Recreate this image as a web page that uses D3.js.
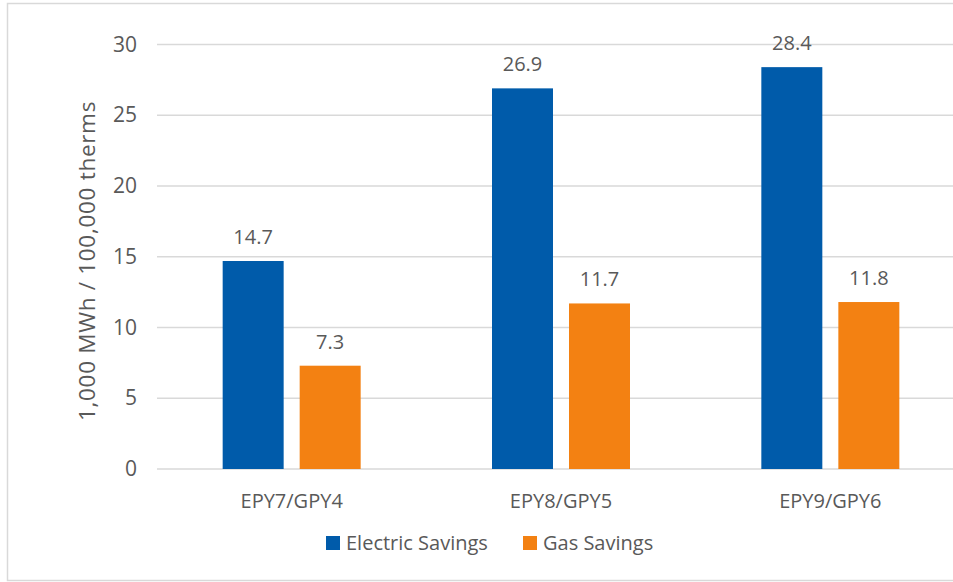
<!DOCTYPE html>
<html>
<head>
<meta charset="utf-8">
<script src="https://cdn.jsdelivr.net/npm/d3@7"></script>
<style>
  html, body { margin: 0; padding: 0; background: #fff; }
  svg text { font-family: "Open Sans", "Noto Sans", sans-serif; fill: #595959; }
</style>
</head>
<body>
<svg id="chart" width="953" height="582"></svg>
<script>
// Program years and savings per year
const categories = ["EPY7/GPY4", "EPY8/GPY5", "EPY9/GPY6"];
const seriesNames = ["Electric Savings", "Gas Savings"];
const electricSavings = [14.7, 26.9, 28.4];
const gasSavings = [7.3, 11.7, 11.8];
const yTicks = [0, 5, 10, 15, 20, 25, 30];
const yTitle = "1,000 MWh / 100,000 therms";
const colors = ["#005BAA", "#F38112"];

const svg = d3.select("#chart");

// Outer frame
svg.append("rect")
  .attr("x", 7.5).attr("y", 3.5)
  .attr("width", 960).attr("height", 577)
  .attr("fill", "none").attr("stroke", "#d9d9d9").attr("stroke-width", 1.5);

const plot = { left: 157, right: 965, top: 44.5, bottom: 469 };

const x = d3.scaleBand().domain(categories).range([plot.left, plot.right]).paddingInner(0).paddingOuter(0);
const groupWidth = 138;
const x1 = d3.scaleBand().domain(seriesNames).range([0, groupWidth]).paddingInner(0.208);
const y = d3.scaleLinear().domain([0, 30]).range([plot.bottom, plot.top]);

// Gridlines
svg.append("g")
  .selectAll("line").data(yTicks).join("line")
  .attr("x1", plot.left).attr("x2", plot.right)
  .attr("y1", d => y(d)).attr("y2", d => y(d))
  .attr("stroke", "#d9d9d9").attr("stroke-width", 1.3);

// Y axis tick labels
const yAxis = d3.axisLeft(y).tickValues(yTicks).tickSize(0).tickPadding(0);
const gy = svg.append("g").attr("transform", `translate(137,0)`).call(yAxis);
gy.select(".domain").remove();
gy.selectAll("text").attr("font-size", 21).attr("fill", "#595959")
  .style("font-family", '"Open Sans", sans-serif');

// Y axis title
svg.append("text")
  .attr("transform", `translate(95,261) rotate(-90)`)
  .attr("text-anchor", "middle")
  .attr("font-size", 22.5)
  .attr("letter-spacing", 0.7)
  .text(yTitle);

// X axis category labels
const xAxis = d3.axisBottom(x).tickSize(0).tickPadding(0);
const gx = svg.append("g").attr("transform", `translate(0,${plot.bottom + 39})`).call(xAxis);
gx.select(".domain").remove();
gx.selectAll("text").attr("font-size", 20).attr("fill", "#595959").attr("dy", 0)
  .style("font-family", '"Open Sans", sans-serif');

// Bars
const rows = categories.map((c, i) => ({ cat: c, vals: [electricSavings[i], gasSavings[i]] }));
const groups = svg.append("g").selectAll("g").data(rows).join("g")
  .attr("transform", d => `translate(${x(d.cat) + x.bandwidth() / 2 - groupWidth / 2},0)`);

groups.selectAll("rect").data(d => d.vals.map((v, j) => ({ v, s: seriesNames[j], j })))
  .join("rect")
  .attr("x", d => x1(d.s))
  .attr("width", x1.bandwidth())
  .attr("y", d => y(d.v))
  .attr("height", d => y(0) - y(d.v))
  .attr("fill", d => colors[d.j]);

// Value labels
groups.selectAll("text.val").data(d => d.vals.map((v, j) => ({ v, s: seriesNames[j] })))
  .join("text")
  .attr("class", "val")
  .attr("x", d => x1(d.s) + x1.bandwidth() / 2)
  .attr("y", d => y(d.v) - 17)
  .attr("text-anchor", "middle")
  .attr("font-size", 20)
  .text(d => d3.format(".1f")(d.v));

// Legend
const legendItems = [
  { name: seriesNames[0], color: colors[0], x: 326 },
  { name: seriesNames[1], color: colors[1], x: 523 }
];
const lg = svg.append("g").selectAll("g").data(legendItems).join("g")
  .attr("transform", d => `translate(${d.x},536)`);
lg.append("rect").attr("width", 14).attr("height", 14).attr("fill", d => d.color);
lg.append("text").attr("x", 20).attr("y", 14).attr("font-size", 20).text(d => d.name);
</script>
</body>
</html>
